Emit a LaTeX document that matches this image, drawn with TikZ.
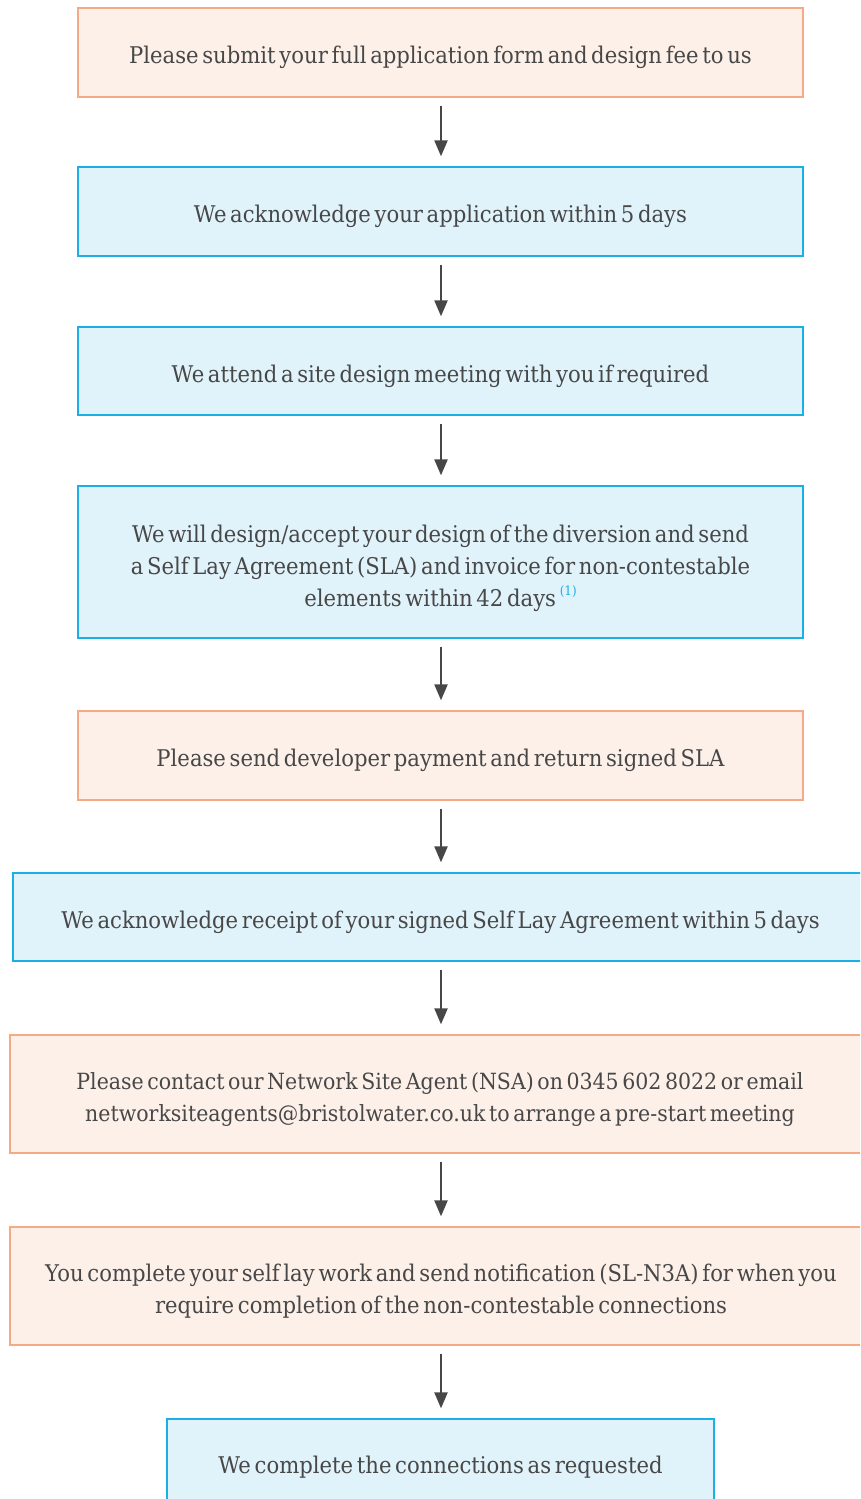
\documentclass[tikz,border=0pt]{standalone}
\usepackage{fontspec}
\setmainfont{DejaVu Serif}[FakeStretch=0.92, WordSpace=0.55]
\usetikzlibrary{arrows.meta}
\definecolor{txt}{HTML}{474747}
\definecolor{obord}{HTML}{F5AA85}
\definecolor{ofill}{HTML}{FDF0E9}
\definecolor{bbord}{HTML}{1BAFE6}
\definecolor{bfill}{HTML}{E0F2FA}
\tikzset{
  box/.style={rectangle, draw, line width=1.3pt, inner sep=0pt},
  obox/.style={box, draw=obord, fill=ofill},
  bbox/.style={box, draw=bbord, fill=bfill},
  lbl/.style={inner sep=0pt, align=center, text=txt, font=\fontsize{23}{32}\selectfont},
  arr/.style={draw=txt, line width=2.2pt, -{Triangle[width=13pt,length=16pt]}}
}
\begin{document}
\begin{tikzpicture}[x=1pt,y=-1pt]
\useasboundingbox (0,0) rectangle (860,1499);
\clip (0,0) rectangle (860,1499);
\coordinate (axis) at (441,0);
\node[obox, minimum width=725pt, minimum height=89pt] (n1) at (440.5,52.5) {};
\node[lbl] (t1) at ([yshift=-5pt]n1.center)
  {Please submit your full application form and design fee to us};
\node[bbox, minimum width=725pt, minimum height=89pt] (n2) at (440.5,211.5) {};
\node[lbl] (t2) at ([yshift=-5pt]n2.center)
  {We acknowledge your application within 5 days};
\node[bbox, minimum width=725pt, minimum height=88pt] (n3) at (440.5,371) {};
\node[lbl] (t3) at ([yshift=-5pt]n3.center)
  {We attend a site design meeting with you if required};
\node[bbox, minimum width=725pt, minimum height=152pt] (n4) at (440.5,562) {};
\node[lbl] (t4) at ([yshift=-6pt]n4.center)
  {We will design/accept your design of the diversion and send\\
   a Self Lay Agreement (SLA) and invoice for non-contestable\\
   elements within 42 days \textcolor{bbord}{\raisebox{0.45em}{\fontsize{13}{14}\selectfont(1)}}};
\node[obox, minimum width=725pt, minimum height=89pt] (n5) at (440.5,755.5) {};
\node[lbl] (t5) at ([yshift=-5pt]n5.center)
  {Please send developer payment and return signed SLA};
\node[bbox, minimum width=862pt, minimum height=88pt] (n6) at (444,917) {};
\node[lbl] (t6) at (440.5,922)
  {We acknowledge receipt of your signed Self Lay Agreement within 5 days};
\node[obox, minimum width=865pt, minimum height=118pt] (n7) at (442.5,1094) {};
\node[lbl, font=\fontsize{22.3}{32}\selectfont] (t7) at (440,1099)
  {Please contact our Network Site Agent (NSA) on 0345 602 8022 or email\\
   networksiteagents@bristolwater.co.uk to arrange a pre-start meeting};
\node[obox, minimum width=865pt, minimum height=118pt] (n8) at (442.5,1286) {};
\node[lbl] (t8) at (441,1291)
  {You complete your self lay work and send notification (SL-N3A) for when you\\
   require completion of the non-contestable connections};
\node[bbox, minimum width=547pt, minimum height=90pt] (n9) at (440.5,1464) {};
\node[lbl] (t9) at (440.5,1467)
  {We complete the connections as requested};
\foreach \a/\b in {n1/n2,n2/n3,n3/n4,n4/n5,n5/n6,n6/n7,n7/n8,n8/n9}
  \draw[arr] ([yshift=-8pt]\a.south -| axis) -- ([yshift=10pt]\b.north -| axis);
\end{tikzpicture}
\end{document}
